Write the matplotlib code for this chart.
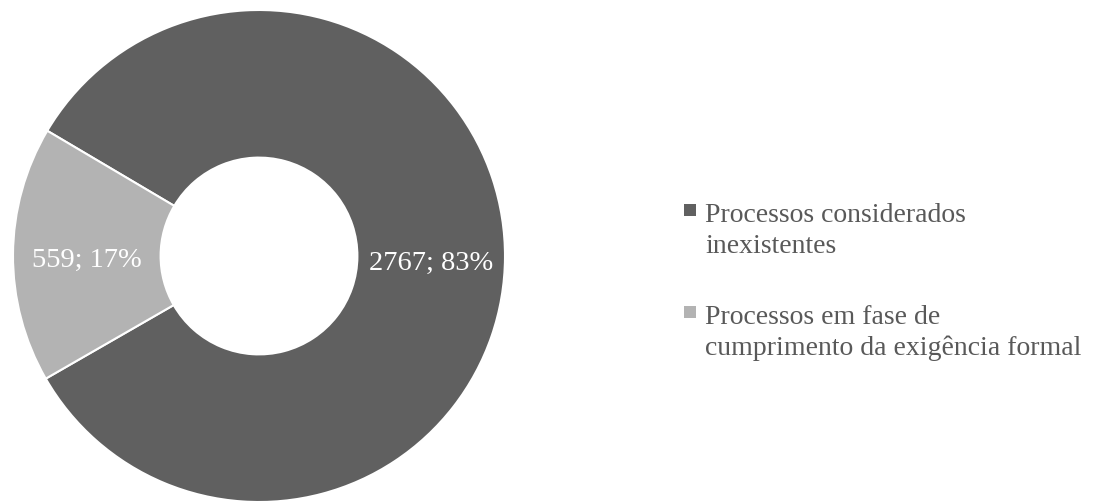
import numpy as np
import matplotlib.pyplot as plt
from matplotlib.patches import Rectangle

# data
labels = [['Processos considerados', 'inexistentes'],
          ['Processos em fase de', 'cumprimento da exigência formal']]
values = [2767, 559]
colors = ['#606060', '#b3b3b3']

plt.rcParams['font.family'] = ['Liberation Serif', 'DejaVu Serif']

fig = plt.figure(figsize=(11.04, 5.02), dpi=100)
W, H = 1104, 502

# donut: centre (259, 257) px from top, radius 246 px
cx, cy, r = 259, 257, 246
ax = fig.add_axes([(cx - r) / W, (H - cy - r) / H, 2 * r / W, 2 * r / H])

total = sum(values)

wedges, texts = ax.pie(values, colors=colors, startangle=149.4, counterclock=False,
                       radius=1.0,
                       wedgeprops=dict(width=0.6, edgecolor='white', linewidth=1.5))

# data labels at middle of the ring
for w, v in zip(wedges, values):
    ang = np.deg2rad((w.theta1 + w.theta2) / 2.0)
    pct = 100.0 * v / total
    ax.text(0.70 * np.cos(ang), 0.70 * np.sin(ang) - 0.02, f'{v}; {pct:.0f}%',
            ha='center', va='center', color='white', fontsize=20.5)

ax.set_xlim(-1, 1)
ax.set_ylim(-1, 1)
ax.axis('off')

# legend drawn by hand (handle aligned with the first text line)
base_y = [222, 324]
line_h = 31
for lines, col, y in zip(labels, colors, base_y):
    fig.patches.append(Rectangle((684 / W, (H - y + 5) / H), 12 / W, 12 / H,
                                 transform=fig.transFigure, facecolor=col,
                                 edgecolor='none'))
    for i, txt in enumerate(lines):
        fig.text(705 / W, (H - y - i * line_h) / H, txt, ha='left', va='baseline',
                 color='#595959', fontsize=20)

fig.savefig('out.png', dpi=100)
